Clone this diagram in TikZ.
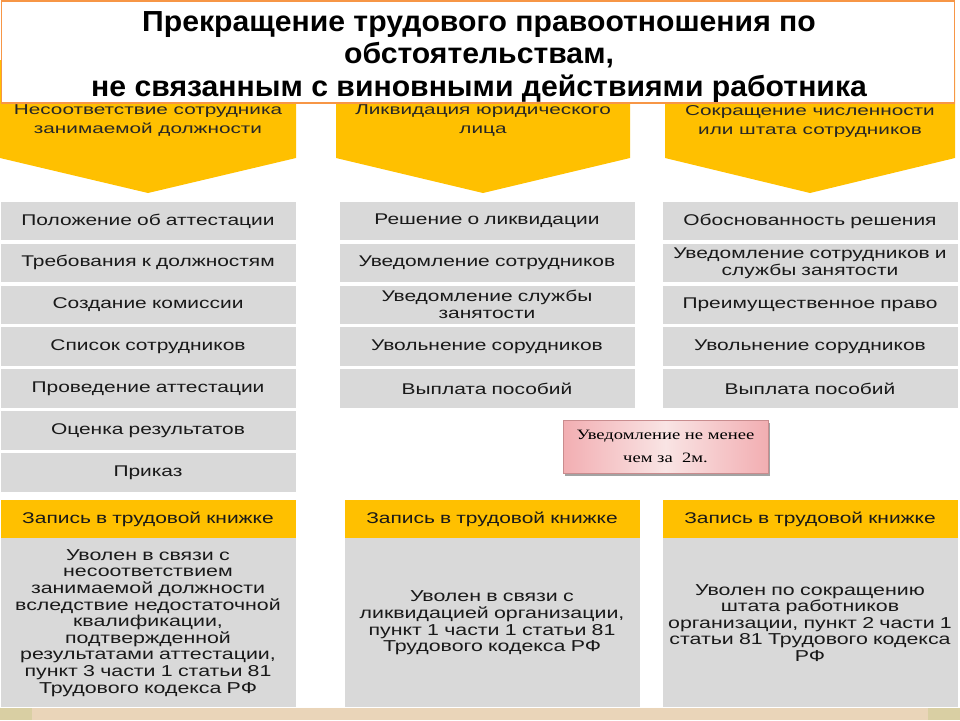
\documentclass[tikz,border=0pt]{standalone}
\usepackage{fontspec}
\setmainfont{Liberation Sans}[FakeStretch=1.35]
\newfontfamily\titlefont{Liberation Sans}[FakeStretch=1.04]
\newfontfamily\causefont{Liberation Sans}[FakeStretch=1.45]
\newfontfamily\notefont{Liberation Serif}[FakeStretch=1.3]
\usepackage{xcolor}
\usepackage{tikz}
\usetikzlibrary{positioning, shadows}

\definecolor{gold}{HTML}{FFC000}
\definecolor{boxgray}{HTML}{D9D9D9}
\definecolor{frameorange}{HTML}{F79646}
\definecolor{notepink}{HTML}{F2AEB2}
\definecolor{notelight}{HTML}{F9E4E4}
\definecolor{noteedge}{HTML}{C98C8E}
\definecolor{stripbeige}{HTML}{EAD5B9}
\definecolor{stripolive}{HTML}{D9CFA3}

\begin{document}
\begin{tikzpicture}[
    x=1pt, y=-1pt,
    font=\fontsize{15.5}{17}\selectfont, % ukuran dasar
    rowbox/.style={rectangle, fill=boxgray, minimum width=295pt, minimum height=38.5pt, inner sep=1pt, text width=290pt, align=center, text=black!90},
    headbox/.style={rectangle, fill=gold, minimum width=295pt, minimum height=38pt, inner sep=1pt, text width=290pt, align=center, text=black!90},
    bodybox/.style={rectangle, fill=boxgray, minimum width=295pt, minimum height=169pt, inner sep=1pt, text width=290pt, align=center, text=black!90, font=\fontsize{15.8}{16.6}\selectfont},
    causetext/.style={align=center, text=black!85, font=\causefont\fontsize{14.3}{19}\selectfont},
    notebox/.style={rectangle, draw=noteedge, line width=0.8pt, left color=notepink, right color=notepink, middle color=notelight, minimum width=205pt, minimum height=53pt, align=center, drop shadow={shadow xshift=2pt, shadow yshift=-3pt, fill=black!45, opacity=0.8}, font=\notefont\fontsize{14.3}{23}\selectfont},
    titlebox/.style={rectangle, draw=frameorange, line width=1.5pt, fill=white, minimum width=953pt, minimum height=102pt},
    titletext/.style={align=center, font=\titlefont\bfseries\fontsize{29}{32.5}\selectfont}
]
\useasboundingbox (0,0) rectangle (960,720);

% Panah kuning (penyebab)
\fill[gold] (0,60) -- (296,60) -- (296,158) -- (148,193) -- (0,158) -- cycle;
\fill[gold] (336,60) -- (630,60) -- (630,158) -- (483,193) -- (336,158) -- cycle;
\fill[gold] (665,60) -- (955,60) -- (955,158) -- (810,193) -- (665,158) -- cycle;

% Judul
\node[titlebox] (title) at (478,52) {};
\node[titletext] (titlelines) at (479,57) {Прекращение трудового правоотношения по\\обстоятельствам,\\не связанным с виновными действиями работника};

\node[causetext] (cause1) at (148,121) {Несоответствие сотрудника\\занимаемой должности};
\node[causetext] (cause2) at (483,121) {Ликвидация юридического\\лица};
\node[causetext] (cause3) at (810,121) {Сокращение численности\\или штата сотрудников};

% Kolom 1
\node[rowbox] (a1) at (148,221) {Положение об аттестации};
\node[rowbox, below=3pt of a1] (a2) {Требования к должностям};
\node[rowbox, below=3pt of a2] (a3) {Создание комиссии};
\node[rowbox, below=3pt of a3] (a4) {Список сотрудников};
\node[rowbox, below=3pt of a4] (a5) {Проведение аттестации};
\node[rowbox, below=3pt of a5] (a6) {Оценка результатов};
\node[rowbox, below=3pt of a6] (a7) {Приказ};

% Kolom 2
\node[rowbox] (b1) at (487,221) {Решение о ликвидации};
\node[rowbox, below=3pt of b1] (b2) {Уведомление сотрудников};
\node[rowbox, below=3pt of b2] (b3) {Уведомление службы\\занятости};
\node[rowbox, below=3pt of b3] (b4) {Увольнение сорудников};
\node[rowbox, below=3pt of b4] (b5) {Выплата пособий};

% Kolom 3
\node[rowbox] (c1) at (810,221) {Обоснованность решения};
\node[rowbox, below=3pt of c1] (c2) {Уведомление сотрудников и\\службы занятости};
\node[rowbox, below=3pt of c2] (c3) {Преимущественное право};
\node[rowbox, below=3pt of c3] (c4) {Увольнение сорудников};
\node[rowbox, below=3pt of c4] (c5) {Выплата пособий};

% Catatan
\node[notebox] (notice) at (665.5,446.5) {Уведомление не менее\\чем за~~2м.};

% Catatan di buku kerja
\node[headbox] (h1) at (148,519) {Запись в трудовой книжке};
\node[headbox] (h2) at (492,519) {Запись в трудовой книжке};
\node[headbox] (h3) at (810,519) {Запись в трудовой книжке};

\node[bodybox, below=0pt of h1] (r1) {Уволен в связи с\\несоответствием\\занимаемой должности\\вследствие недостаточной\\квалификации,\\подтвержденной\\результатами аттестации,\\пункт 3 части 1 статьи 81\\Трудового кодекса РФ};
\node[bodybox, below=0pt of h2] (r2) {Уволен в связи с\\ликвидацией организации,\\пункт 1 части 1 статьи 81\\Трудового кодекса РФ};
\node[bodybox, below=0pt of h3] (r3) {Уволен по сокращению\\штата работников\\организации, пункт 2 части 1\\статьи 81 Трудового кодекса\\РФ};

% Strip bawah
\fill[stripbeige] (0,708) rectangle (960,720);
\fill[stripolive] (0,708) rectangle (32,720);
\fill[stripolive] (928,708) rectangle (960,720);

\end{tikzpicture}
\end{document}
